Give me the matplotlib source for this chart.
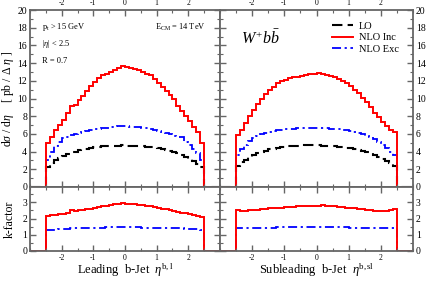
import numpy as np
import matplotlib
matplotlib.use("Agg")
import matplotlib.pyplot as plt
from matplotlib.ticker import MultipleLocator
from matplotlib.lines import Line2D

plt.rcParams['font.family'] = ['Liberation Serif', 'DejaVu Serif']
plt.rcParams['mathtext.fontset'] = 'custom'
plt.rcParams['mathtext.rm'] = 'Liberation Serif'
plt.rcParams['mathtext.it'] = 'Liberation Serif:italic'

# bin edges in eta (width 0.125 from -2.5 to 2.5)
eta_edges = np.linspace(-2.5, 2.5, 41)

# ---- Leading b-jet ----
lead_lo = [2.3, 2.7, 3.0, 3.3, 3.5, 3.7, 3.9, 4.0, 4.15, 4.25, 4.35, 4.45, 4.5, 4.55, 4.6, 4.62, 4.65, 4.67, 4.68, 4.7,
           4.68, 4.67, 4.65, 4.63, 4.6, 4.57, 4.52, 4.47, 4.4, 4.32, 4.22, 4.1, 3.97, 3.8, 3.62, 3.42, 3.2, 2.95, 2.65, 2.3]
lead_inc = [5.0, 5.7, 6.4, 7.0, 7.6, 8.4, 9.2, 9.25, 9.8, 10.3, 10.9, 11.4, 11.9, 12.3, 12.6, 12.8, 13.0, 13.2, 13.4, 13.65,
            13.55, 13.45, 13.35, 13.2, 13.0, 12.8, 12.6, 12.2, 11.8, 11.3, 10.9, 10.4, 9.9, 9.2, 8.6, 8.0, 7.5, 6.8, 6.2, 5.0]
lead_exc = [3.0, 4.0, 4.6, 5.1, 5.5, 5.6, 5.9, 6.0, 6.1, 6.2, 6.35, 6.45, 6.5, 6.6, 6.65, 6.7, 6.75, 6.8, 6.85, 6.9,
            6.85, 6.8, 6.8, 6.75, 6.7, 6.65, 6.55, 6.45, 6.3, 6.2, 6.05, 5.95, 5.8, 5.7, 5.6, 5.1, 4.75, 4.3, 3.8, 3.0]
lead_k_inc = [2.15, 2.2, 2.25, 2.3, 2.3, 2.35, 2.5, 2.45, 2.5, 2.55, 2.6, 2.62, 2.68, 2.72, 2.75, 2.8, 2.83, 2.87, 2.92, 2.95,
              2.93, 2.9, 2.88, 2.85, 2.82, 2.8, 2.77, 2.72, 2.68, 2.62, 2.58, 2.52, 2.48, 2.42, 2.37, 2.33, 2.28, 2.23, 2.18, 2.12]
lead_k_exc = [1.3, 1.28, 1.3, 1.33, 1.35, 1.38, 1.45, 1.4, 1.4, 1.42, 1.43, 1.44, 1.44, 1.45, 1.45, 1.46, 1.46, 1.47, 1.47, 1.48,
              1.47, 1.47, 1.46, 1.46, 1.45, 1.45, 1.44, 1.44, 1.43, 1.43, 1.42, 1.41, 1.4, 1.4, 1.39, 1.38, 1.37, 1.35, 1.33, 1.3]

# ---- Subleading b-jet ----
sub_lo = [2.4, 2.8, 3.1, 3.4, 3.6, 3.8, 4.0, 4.1, 4.25, 4.35, 4.45, 4.52, 4.57, 4.6, 4.63, 4.66, 4.68, 4.7, 4.7, 4.7,
          4.7, 4.68, 4.66, 4.63, 4.6, 4.56, 4.5, 4.45, 4.38, 4.3, 4.2, 4.08, 3.95, 3.8, 3.62, 3.42, 3.2, 2.95, 2.68, 2.4]
sub_inc = [5.9, 6.4, 7.2, 8.0, 8.7, 9.4, 10.0, 10.5, 11.0, 11.3, 11.7, 11.95, 12.1, 12.3, 12.4, 12.45, 12.55, 12.65, 12.75, 12.8,
           12.85, 12.8, 12.7, 12.55, 12.4, 12.2, 12.0, 11.7, 11.4, 11.0, 10.6, 10.1, 9.6, 9.0, 8.4, 7.9, 7.4, 6.9, 6.4, 6.2]
sub_exc = [3.6, 4.3, 4.8, 5.2, 5.5, 5.75, 5.95, 6.1, 6.2, 6.3, 6.4, 6.45, 6.5, 6.55, 6.6, 6.62, 6.65, 6.65, 6.67, 6.68,
           6.68, 6.66, 6.63, 6.6, 6.55, 6.5, 6.45, 6.4, 6.3, 6.2, 6.1, 5.95, 5.8, 5.6, 5.4, 5.1, 4.8, 4.4, 4.0, 3.6]
sub_k_inc = [2.5, 2.45, 2.47, 2.5, 2.52, 2.55, 2.6, 2.58, 2.63, 2.65, 2.68, 2.68, 2.7, 2.72, 2.74, 2.75, 2.77, 2.78, 2.8, 2.8,
             2.8, 2.82, 2.8, 2.78, 2.76, 2.74, 2.7, 2.68, 2.66, 2.64, 2.6, 2.58, 2.55, 2.52, 2.48, 2.45, 2.44, 2.45, 2.5, 2.62]
sub_k_exc = [1.4, 1.4, 1.41, 1.42, 1.42, 1.43, 1.44, 1.44, 1.45, 1.45, 1.46, 1.46, 1.47, 1.47, 1.47, 1.48, 1.48, 1.48, 1.48, 1.48,
             1.48, 1.48, 1.48, 1.47, 1.47, 1.47, 1.46, 1.46, 1.45, 1.45, 1.44, 1.44, 1.43, 1.43, 1.42, 1.41, 1.41, 1.4, 1.4, 1.4]

xlim = (-3.0, 3.0)
frame_col = '#666666'
red = '#ff0000'
blue = '#0000ff'
lo_style = (0, (5, 2.5))
exc_style = (0, (5, 2, 1.2, 2))

fig = plt.figure(figsize=(4.28, 2.82), dpi=100)
L, M, R = 30/428, 220/428, 413/428
T, Mid, B = 1 - 10/282, 1 - 187/282, 1 - 251/282
ax_tl = fig.add_axes([L, Mid, M - L, T - Mid])
ax_tr = fig.add_axes([M, Mid, R - M, T - Mid])
ax_bl = fig.add_axes([L, B, M - L, Mid - B])
ax_br = fig.add_axes([M, B, R - M, Mid - B])

full_edges = np.concatenate([[xlim[0]], eta_edges, [xlim[1]]])

def stepdraw(ax, vals, **kw):
    v = np.concatenate([[0.0], vals, [0.0]])
    ax.stairs(v, full_edges, baseline=None, **kw)

def style(ax, top, left_labels):
    ax.set_xlim(*xlim)
    for s in ax.spines.values():
        s.set_color(frame_col)
        s.set_linewidth(1.3)
    ax.xaxis.set_minor_locator(MultipleLocator(0.5))
    ax.tick_params(which='both', direction='in', top=True, bottom=True, left=True, right=True,
                   color=frame_col, pad=2)
    ax.tick_params(axis='x', labelsize=5.5)
    ax.tick_params(axis='y', labelsize=7)
    ax.tick_params(which='major', length=4, width=1.0)
    ax.tick_params(which='minor', length=2, width=0.8)
    ax.set_xticks([-2, -1, 0, 1, 2])
    ax.set_xticklabels(['-2', '-1', '0', '1', '2'])
    if top:
        ax.tick_params(labeltop=True, labelbottom=False)
    else:
        ax.tick_params(labeltop=False, labelbottom=True)
    if left_labels:
        ax.tick_params(labelleft=True, labelright=False)
    else:
        ax.tick_params(labelleft=False, labelright=True)

for ax, lo, inc, exc in [(ax_tl, lead_lo, lead_inc, lead_exc), (ax_tr, sub_lo, sub_inc, sub_exc)]:
    stepdraw(ax, lo, color='black', lw=1.5, linestyle=lo_style)
    stepdraw(ax, exc, color=blue, lw=1.3, linestyle=exc_style)
    stepdraw(ax, inc, color=red, lw=1.4)
    ax.set_ylim(0, 20)
    ax.yaxis.set_major_locator(MultipleLocator(2))
    ax.yaxis.set_minor_locator(MultipleLocator(1))

for ax, ki, ke in [(ax_bl, lead_k_inc, lead_k_exc), (ax_br, sub_k_inc, sub_k_exc)]:
    stepdraw(ax, ke, color=blue, lw=1.3, linestyle=exc_style)
    stepdraw(ax, ki, color=red, lw=1.4)
    ax.set_ylim(0, 3.95)
    ax.yaxis.set_major_locator(MultipleLocator(1))
    ax.yaxis.set_minor_locator(MultipleLocator(0.5))

style(ax_tl, True, True)
style(ax_tr, True, False)
style(ax_bl, False, True)
style(ax_br, False, False)

# axis labels
ax_tl.set_ylabel(r'd$\sigma$ / d$\eta$    [ pb / $\Delta$ $\eta$ ]', fontsize=8.5)
ax_tl.yaxis.set_label_coords(-0.075, 0.5)
ax_bl.set_ylabel('k-factor', fontsize=8.5)
ax_bl.yaxis.set_label_coords(-0.075, 0.5)
ax_bl.set_xlabel(r'Leading  b-Jet  $\eta^{\mathrm{b,l}}$', fontsize=9, labelpad=0)
ax_br.set_xlabel(r'Subleading  b-Jet  $\eta^{\mathrm{b,sl}}$', fontsize=9, labelpad=0)

# annotations
ax_tl.text(0.065, 0.904, r'p$_\mathrm{t}$ > 15 GeV', transform=ax_tl.transAxes, fontsize=6, va='center')
ax_tl.text(0.065, 0.81, r'|$\eta$| < 2.5', transform=ax_tl.transAxes, fontsize=6, va='center')
ax_tl.text(0.065, 0.71, 'R = 0.7', transform=ax_tl.transAxes, fontsize=6, va='center')
ax_tl.text(0.66, 0.904, r'E$_\mathrm{CM}$ = 14 TeV', transform=ax_tl.transAxes, fontsize=6, va='center')
ax_tr.text(0.11, 0.84, r'$W^{+}b\bar{b}$', transform=ax_tr.transAxes, fontsize=11.5, va='center')

handles = [Line2D([], [], color='black', lw=1.5, linestyle=lo_style),
           Line2D([], [], color=red, lw=1.4),
           Line2D([], [], color=blue, lw=1.3, linestyle=exc_style)]
ax_tr.legend(handles, ['LO', 'NLO Inc', 'NLO Exc'], loc='upper right', bbox_to_anchor=(0.96, 0.97),
             frameon=False, fontsize=7.5, handlelength=2.0, handletextpad=0.6, labelspacing=0.2, borderaxespad=0.2)

fig.savefig('out.png', dpi=100)
